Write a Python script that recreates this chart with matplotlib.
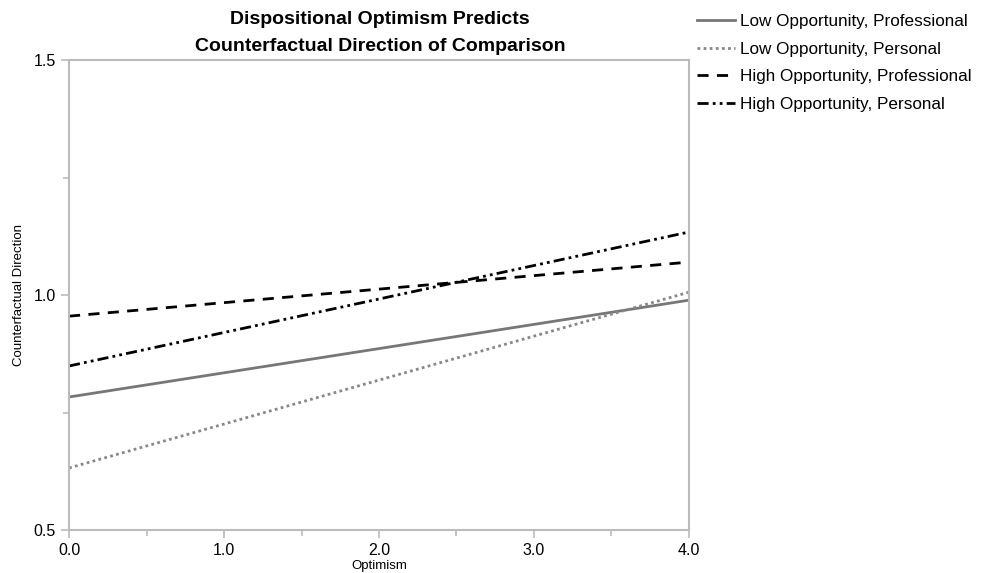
import matplotlib
matplotlib.use("Agg")
import matplotlib.pyplot as plt
from matplotlib.ticker import MultipleLocator
import numpy as np

plt.rcParams['font.family'] = ['Liberation Sans', 'DejaVu Sans']

# optimism range and predicted counterfactual direction at both ends
optimism = [0.0, 4.0]
low_prof = [0.783, 0.989]
low_pers = [0.632, 1.006]
high_prof = [0.955, 1.070]
high_pers = [0.849, 1.134]

series_names = ["Low Opportunity, Professional", "Low Opportunity, Personal",
                "High Opportunity, Professional", "High Opportunity, Personal"]

fig = plt.figure(figsize=(9.82, 5.73), dpi=100)
ax = fig.add_axes([0.0703, 0.075, 0.6313, 0.8203])

ax.plot(optimism, low_prof, color='#777777', lw=2, linestyle='-', label=series_names[0])
ax.plot(optimism, low_pers, color='#888888', lw=2, linestyle=(0, (1, 1.2)), label=series_names[1])
ax.plot(optimism, high_prof, color='black', lw=2, linestyle=(0, (4, 3)), label=series_names[2])
ax.plot(optimism, high_pers, color='black', lw=2, linestyle=(0, (4, 1.5, 1, 1.5, 1, 1.5)), label=series_names[3])

ax.set_xlim(0, 4)
ax.set_ylim(0.5, 1.5)
ax.xaxis.set_major_locator(MultipleLocator(1.0))
ax.xaxis.set_minor_locator(MultipleLocator(0.5))
ax.yaxis.set_major_locator(MultipleLocator(0.5))
ax.yaxis.set_minor_locator(MultipleLocator(0.25))
ax.xaxis.set_major_formatter(matplotlib.ticker.FormatStrFormatter('%.1f'))
ax.yaxis.set_major_formatter(matplotlib.ticker.FormatStrFormatter('%.1f'))

for s in ax.spines.values():
    s.set_color('#bbbbbb')
    s.set_linewidth(1.5)
ax.tick_params(which='both', direction='out', color='#bbbbbb', width=1.2)
ax.tick_params(which='major', length=6, labelsize=11.5)
ax.tick_params(which='minor', length=4)

ax.set_xlabel("Optimism", fontsize=9.5, labelpad=1)
ax.set_ylabel("Counterfactual Direction", fontsize=9.5, labelpad=6)

fig.text(0.387, 0.981, "Dispositional Optimism Predicts\nCounterfactual Direction of Comparison",
         fontsize=14, fontweight='bold', linespacing=1.75, ha='center', va='top')

leg = fig.legend(loc='upper left', bbox_to_anchor=(0.710, 0.976), frameon=False,
                 fontsize=12.3, handlelength=2.2, handletextpad=0.3, labelspacing=0.75,
                 borderaxespad=0, borderpad=0)

fig.savefig("out.png", dpi=100)
